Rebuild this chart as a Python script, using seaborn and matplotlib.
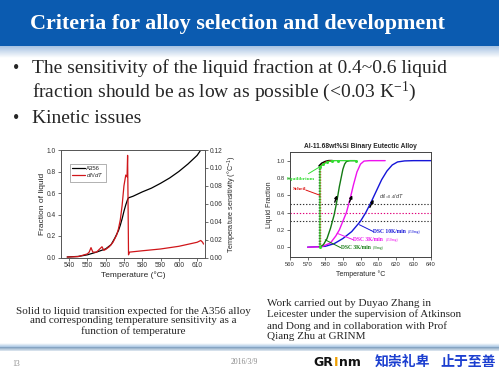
import numpy as np
import pandas as pd
import matplotlib
matplotlib.use("Agg")
import matplotlib.pyplot as plt
import seaborn as sns
from matplotlib.patches import Rectangle
from matplotlib.colors import to_rgb

# ---------------- data ----------------
# Left chart: A356 fraction of liquid and temperature sensitivity
a356_T = [539, 545, 550, 555, 560, 563, 565, 567, 568, 569, 570, 571, 572, 572.5,
          575, 580, 585, 590, 595, 600, 605, 610, 612]
a356_fl = [0.005, 0.01, 0.025, 0.05, 0.08, 0.12, 0.18, 0.25, 0.30, 0.36, 0.43, 0.49,
           0.54, 0.555, 0.57, 0.61, 0.645, 0.69, 0.74, 0.80, 0.87, 0.95, 1.0]
sens_T = [539, 545, 550, 551, 552, 553, 555, 556, 558, 559, 560, 562, 564, 566, 567,
          568, 569, 570, 571, 571.7, 572, 572.3, 572.5, 573, 580, 590, 600, 610, 612,
          613, 613.5]
sens_v = [0.0005, 0.001, 0.004, 0.006, 0.011, 0.006, 0.006, 0.008, 0.012, 0.008,
          0.009, 0.012, 0.017, 0.025, 0.032, 0.042, 0.058, 0.08, 0.092, 0.09, 0.114,
          0.05, 0.003, 0.006, 0.0075, 0.0095, 0.0125, 0.017, 0.019, 0.017, 0.015]

# Right chart: Al-11.68wt%Si liquid fraction
eq_T = [577, 577, 579, 581, 584, 587.5, 597.5]
eq_f = [0.0, 0.93, 0.96, 0.985, 1.0, 1.0, 1.0]
lever_T = [576.5, 576.5, 578, 580, 582, 584]
lever_f = [0.0, 0.94, 0.97, 0.99, 1.0, 1.0]
scheil_T = [577, 577, 578, 580, 582, 585]
scheil_f = [0.0, 0.92, 0.95, 0.98, 0.995, 1.0]
dsc3_20_T = [577, 579, 581, 583, 585, 586, 587, 588, 589, 590, 591, 592, 594, 597]
dsc3_20_f = [0.0, 0.03, 0.10, 0.22, 0.37, 0.47, 0.58, 0.70, 0.80, 0.90, 0.96, 0.99, 1.0, 1.0]
dsc3_150_T = [570, 578, 583, 586, 588, 590, 592, 594, 596, 598, 600, 602, 605, 614]
dsc3_150_f = [0.0, 0.005, 0.05, 0.13, 0.20, 0.30, 0.40, 0.55, 0.72, 0.87, 0.96, 0.995, 1.0, 1.0]
dsc10_T = [570, 580, 585, 590, 595, 600, 603, 606, 609, 612, 615, 618, 621, 625, 630, 640]
dsc10_f = [0.0, 0.01, 0.04, 0.10, 0.18, 0.30, 0.40, 0.52, 0.65, 0.78, 0.88, 0.95, 0.985,
           0.997, 1.0, 1.0]
ref_levels = [0.5, 0.4, 0.3]

# ---------------- style ----------------
sns.set_style("ticks")
plt.rcParams['font.family'] = ['Liberation Sans', 'DejaVu Sans']
plt.rcParams['mathtext.fontset'] = 'custom'
plt.rcParams['mathtext.rm'] = 'Liberation Sans'
plt.rcParams['mathtext.it'] = 'Liberation Sans:italic'
plt.rcParams['mathtext.bf'] = 'Liberation Sans:bold'

W, H = 499, 374
fig = plt.figure(figsize=(W / 100, H / 100), dpi=100)
fig.patch.set_facecolor('white')

bg = fig.add_axes([0, 0, 1, 1], zorder=-5)
bg.axis('off')

def grad(y0, y1, c0, c1, n=40):
    a = np.array(to_rgb(c0)); b = np.array(to_rgb(c1))
    t = np.linspace(0, 1, n)[:, None]
    img = (a * (1 - t) + b * t)[:, None, :]
    bg.imshow(img, extent=(0, W, y1, y0), aspect='auto', interpolation='bilinear')

# header
bg.add_patch(Rectangle((0, 0), W, 45.5, color='#0b5bb0', lw=0))
grad(45.5, 58, '#9fbde0', '#ffffff')
# footer band
grad(343, 347, '#ffffff', '#a9c6e3', n=10)
grad(347, 351, '#7d9dbd', '#dfe8f1', n=10)

serif = 'Liberation Serif'
bg.text(237.5, 24, "Criteria for alloy selection and development", ha='center', va='center',
        color='white', fontsize=15.9, fontweight='bold', family=serif)
bullets = [(68, "•", "The sensitivity of the liquid fraction at 0.4~0.6 liquid"),
           (92, None, r"fraction should be as low as possible (<0.03 $\mathregular{K^{-1}}$)"),
           (118, "•", "Kinetic issues")]
for y, b, t in bullets:
    if b:
        bg.text(13, y, b, ha='left', va='center', fontsize=13, family=serif)
    bg.text(32, y, t, ha='left', va='center', fontsize=14, family=serif)

# captions
bg.text(133, 321, "Solid to liquid transition expected for the A356 alloy\n"
        "and corresponding temperature sensitivity as a\nfunction of temperature",
        ha='center', va='center', fontsize=8, family=serif, linespacing=1.12)
bg.text(267, 320, "Work carried out by Duyao Zhang in\nLeicester under the supervision of Atkinson\n"
        "and Dong and in collaboration with Prof\nQiang Zhu at GRINM",
        ha='left', va='center', fontsize=8, family=serif, linespacing=1.2)

# footer texts
bg.text(12, 364, "13", ha='left', va='center', fontsize=5.5, color='#888888', family=serif)
bg.text(244, 362, "2016/3/9", ha='center', va='center', fontsize=5.5, color='#888888', family=serif)
bg.text(313, 362, "GR", ha='left', va='center', fontsize=9, fontweight='bold', color='#111111',
        family='DejaVu Sans')
bg.text(333.5, 362, "I", ha='left', va='center', fontsize=9, fontweight='bold', color='#f0a000',
        family='DejaVu Sans')
bg.text(339, 362, "nm", ha='left', va='center', fontsize=9, fontweight='bold', color='#111111',
        family='DejaVu Sans')
cjk = ['Noto Sans CJK SC', 'DejaVu Sans']
bg.text(375, 362, "知崇礼卑", ha='left', va='center', fontsize=10, fontweight='bold',
        color='#1c3fd0', family=cjk)
bg.text(440, 362, "止于至善", ha='left', va='center', fontsize=10, fontweight='bold',
        color='#1c3fd0', family=cjk)

bg.set_xlim(0, W); bg.set_ylim(H, 0)

def rect(x0, y0, x1, y1):
    return [x0 / W, 1 - y1 / H, (x1 - x0) / W, (y1 - y0) / H]

# ---------------- left chart ----------------
axL = fig.add_axes(rect(61, 150, 205, 257.5))
sns.lineplot(x=a356_T, y=a356_fl, ax=axL, color='black', lw=0.9, sort=False,
             estimator=None, label='A356', legend=False)
axR = axL.twinx()
sns.lineplot(x=sens_T, y=sens_v, ax=axR, color='#d0161a', lw=0.9, sort=False,
             estimator=None, label='$df_l\\,/dT$', legend=False)
axL.set_xlim(535.6, 614.3); axL.set_ylim(0, 1.0); axR.set_ylim(0, 0.12)
axL.set_xticks(np.arange(540, 611, 10)); axL.set_yticks(np.arange(0, 1.01, 0.2))
axR.set_yticks(np.arange(0, 0.121, 0.02))
axL.set_yticklabels([f"{v:.1f}" for v in np.arange(0, 1.01, 0.2)])
axR.set_yticklabels([f"{v:.2f}" for v in np.arange(0, 0.121, 0.02)])
for a in (axL, axR):
    a.tick_params(labelsize=4.8, length=2, width=0.5, pad=1.5, colors='#333333')
    for s in a.spines.values():
        s.set_linewidth(0.6); s.set_color('#555555')
axL.set_xlabel("Temperature (°C)", fontsize=6, labelpad=1.5)
axL.set_ylabel("Fraction of liquid", fontsize=6, labelpad=1)
axR.set_ylabel("Temperature sensitivity (°C$^{-1}$)", fontsize=5.2, labelpad=2)
h1, l1 = axL.get_legend_handles_labels()
h2, l2 = axR.get_legend_handles_labels()
leg = axR.legend(h1 + h2, l1 + l2, loc='upper left', bbox_to_anchor=(0.04, 0.9),
                 fontsize=4.3, frameon=True, handlelength=2.2, borderpad=0.3,
                 labelspacing=0.1, handletextpad=0.3)
leg.get_frame().set_linewidth(0.4); leg.get_frame().set_edgecolor('#555555')
leg.get_frame().set_boxstyle('square', pad=0)

# ---------------- right chart ----------------
ax2 = fig.add_axes(rect(290, 152, 431, 256.7))
for lv, c in zip(ref_levels, ['#333333', '#e0007a', '#333333']):
    ax2.axhline(lv, color=c, lw=0.8, ls=(0, (1.2, 1.6)))
C_EQ, C_SCH, C_G, C_M, C_B = '#33dd33', '#dd1111', '#137a13', '#ee11ee', '#1515d8'
sns.lineplot(x=dsc10_T, y=dsc10_f, ax=ax2, color=C_B, lw=1.0, sort=False, estimator=None)
sns.lineplot(x=dsc3_150_T, y=dsc3_150_f, ax=ax2, color=C_M, lw=1.0, sort=False, estimator=None)
sns.lineplot(x=dsc3_20_T, y=dsc3_20_f, ax=ax2, color=C_G, lw=1.0, sort=False, estimator=None)
sns.lineplot(x=lever_T[:2], y=lever_f[:2], ax=ax2, color='black', lw=1.0, ls=(0, (1, 1)),
             sort=False, estimator=None)
sns.lineplot(x=lever_T[1:], y=lever_f[1:], ax=ax2, color='black', lw=1.2, sort=False,
             estimator=None)
sns.lineplot(x=scheil_T[:2], y=scheil_f[:2], ax=ax2, color=C_SCH, lw=1.0, ls=(0, (1, 1)),
             sort=False, estimator=None)
sns.lineplot(x=scheil_T[1:], y=scheil_f[1:], ax=ax2, color=C_SCH, lw=1.0, sort=False,
             estimator=None)
sns.lineplot(x=eq_T, y=eq_f, ax=ax2, color=C_EQ, lw=0.9, marker='o', markersize=2.2,
             markeredgewidth=0, sort=False, estimator=None)

# tangent arrows
for (t0, v0, t1, v1) in [(585.4, 0.52, 586.7, 0.60), (593.7, 0.52, 595.3, 0.60),
                         (605.3, 0.46, 607.4, 0.55)]:
    ax2.annotate('', xy=(t1, v1), xytext=(t0, v0),
                 arrowprops=dict(arrowstyle='-|>', color='black', lw=1.0,
                                 mutation_scale=4, shrinkA=0, shrinkB=0))
ax2.text(610.5, 0.58, r"$df_{l=0.4}/dT$", fontsize=4.0, ha='left', va='center',
         color='#333333')

# labels with leader lines
ann = [("Equilibrium", C_EQ, 566.5, 0.79, 570.5, 0.85, 577, 0.93),
       ("Scheil", C_SCH, 565.5, 0.67, 569, 0.66, 577, 0.60)]
for txt, c, tx, ty, lx0, ly0, lx1, ly1 in ann:
    ax2.plot([lx0, lx1], [ly0, ly1], color=c, lw=0.7)
    ax2.text(tx, ty, txt, color=c, fontsize=3.8, ha='center', va='center', family=serif,
             fontweight='bold')
dsc_lab = [("DSC 10K/min", "(150mg)", C_B, 607.3, 0.18, 599.3, 0.26),
           ("DSC 3K/min", "(150mg)", C_M, 596.0, 0.085, 586.8, 0.16),
           ("DSC 3K/min", "(20mg)", C_G, 588.7, -0.005, 580.0, 0.085)]
for main, sub, c, tx, ty, lx, ly in dsc_lab:
    ax2.plot([lx, tx], [ly, ty], color=c, lw=0.7)
    t = ax2.text(tx, ty, main, color=c, fontsize=4.0, ha='left', va='center', family=serif,
                 fontweight='bold')
    ax2.annotate(sub, xy=(1, 0.45), xycoords=t, xytext=(1.5, 0), textcoords='offset points',
                 color=c, fontsize=2.7, ha='left', va='center', family=serif)

ax2.set_xlim(560, 640); ax2.set_ylim(-0.11, 1.1)
ax2.set_xticks(np.arange(560, 641, 10)); ax2.set_yticks(np.arange(0, 1.01, 0.2))
ax2.set_yticklabels([f"{v:.1f}" for v in np.arange(0, 1.01, 0.2)])
ax2.tick_params(labelsize=4.2, length=2, width=0.5, pad=1.5, colors='#333333')
for s in ax2.spines.values():
    s.set_linewidth(0.7); s.set_color('#444444')
ax2.set_xlabel("Temperature °C", fontsize=5, labelpad=3)
ax2.set_ylabel("Liquid Fraction", fontsize=5, labelpad=3)
ax2.set_title("Al-11.68wt%Si Binary Eutectic Alloy", fontsize=4.8, fontweight='bold', pad=3)

fig.savefig("out.png", dpi=100)
